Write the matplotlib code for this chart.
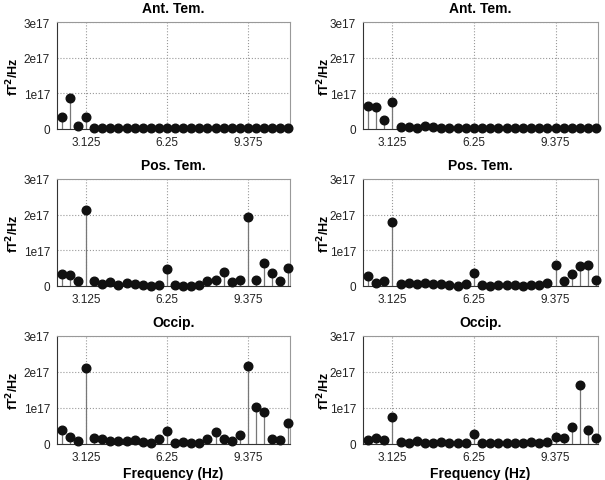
import numpy as np
import matplotlib.pyplot as plt

plt.rcParams['font.family'] = ['Liberation Sans', 'DejaVu Sans']

# frequency bins (Hz)
freqs = np.arange(29) * 0.3125 + 2.1875

titles = ['Ant. Tem.', 'Pos. Tem.', 'Occip.']

# power in units of 1e17 fT^2/Hz, left column
ant_left = [0.33, 0.88, 0.09, 0.33, 0.04, 0.02, 0.03, 0.02, 0.02, 0.02, 0.03, 0.02, 0.02, 0.03, 0.02,
            0.02, 0.02, 0.02, 0.02, 0.04, 0.03, 0.04, 0.02, 0.04, 0.02, 0.02, 0.02, 0.02, 0.02]
pos_left = [0.33, 0.32, 0.13, 2.14, 0.15, 0.06, 0.12, 0.04, 0.08, 0.07, 0.02, 0.01, 0.02, 0.48, 0.02,
            0.01, 0.01, 0.02, 0.13, 0.16, 0.38, 0.11, 0.18, 1.93, 0.16, 0.64, 0.36, 0.13, 0.50]
occ_left = [0.40, 0.19, 0.09, 2.12, 0.16, 0.15, 0.09, 0.07, 0.07, 0.12, 0.05, 0.03, 0.15, 0.36, 0.04,
            0.05, 0.02, 0.03, 0.13, 0.32, 0.15, 0.08, 0.25, 2.16, 1.02, 0.90, 0.13, 0.12, 0.59]

# right column
ant_right = [0.64, 0.61, 0.24, 0.75, 0.05, 0.05, 0.03, 0.09, 0.05, 0.02, 0.02, 0.02, 0.03, 0.03, 0.03,
             0.02, 0.02, 0.02, 0.02, 0.02, 0.02, 0.02, 0.02, 0.02, 0.03, 0.03, 0.03, 0.02, 0.02]
pos_right = [0.27, 0.09, 0.14, 1.80, 0.05, 0.09, 0.07, 0.09, 0.06, 0.06, 0.02, 0.01, 0.06, 0.36, 0.03,
             0.01, 0.03, 0.02, 0.03, 0.01, 0.04, 0.03, 0.08, 0.58, 0.14, 0.35, 0.56, 0.59, 0.16]
occ_right = [0.12, 0.16, 0.11, 0.76, 0.06, 0.04, 0.07, 0.04, 0.03, 0.06, 0.04, 0.03, 0.04, 0.28, 0.02,
             0.03, 0.03, 0.03, 0.04, 0.04, 0.05, 0.04, 0.05, 0.19, 0.17, 0.46, 1.63, 0.40, 0.17]

data = [[ant_left, ant_right], [pos_left, pos_right], [occ_left, occ_right]]

xticks = [3.125, 6.25, 9.375]
yticks = [0, 1e17, 2e17, 3e17]
ytick_labels = ['0', '1e17', '2e17', '3e17']

fig = plt.figure(figsize=(6.05, 4.81), dpi=100)
W, H = 605.0, 481.0
cols = [(57, 290), (363, 598)]
ylab_x = [13, 324]
rows = [(23, 130), (180, 287), (337, 445)]

for r in range(3):
    for c in range(2):
        x0, x1 = cols[c]
        y0, y1 = rows[r]
        ax = fig.add_axes([x0 / W, 1 - y1 / H, (x1 - x0) / W, (y1 - y0) / H])
        vals = np.array(data[r][c]) * 1e17
        ml, sl, bl = ax.stem(freqs, vals, basefmt=' ')
        plt.setp(ml, marker='o', markersize=6.2, color='#111111', markeredgecolor='#111111', clip_on=False, zorder=3)
        plt.setp(sl, color='#777777', linewidth=0.9)
        ax.set_xlim(2, 11)
        ax.set_ylim(0, 3e17)
        ax.set_xticks(xticks)
        ax.set_xticklabels(['3.125', '6.25', '9.375'])
        ax.set_yticks(yticks)
        ax.set_yticklabels(ytick_labels)
        ax.tick_params(length=0, labelsize=8.5, pad=5, colors='#222222')
        ax.grid(True, linestyle=':', color='#999999', linewidth=0.8)
        ax.set_axisbelow(True)
        for s in ['top', 'right']:
            ax.spines[s].set_color('#999999')
        for s in ['left', 'bottom']:
            ax.spines[s].set_color('#333333')
        ax.set_title(titles[r], fontsize=10, fontweight='bold', pad=7)
        ax.set_ylabel('fT$^\\mathbf{2}$/Hz', fontsize=9, fontweight='bold', va='center')
        ax.yaxis.set_label_coords((ylab_x[c] - x0) / (x1 - x0), 0.5)
        if r == 2:
            ax.set_xlabel('Frequency (Hz)', fontsize=10, fontweight='bold', labelpad=2)

fig.savefig('out.png', dpi=100)
